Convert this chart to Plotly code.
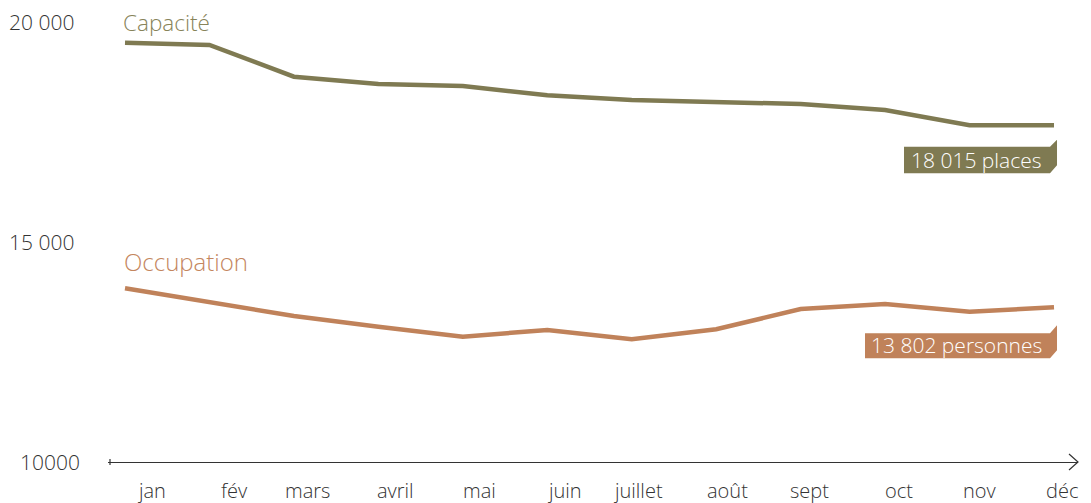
import plotly.graph_objects as go

months = ["jan", "fév", "mars", "avril", "mai", "juin", "juillet", "août", "sept", "oct", "nov", "déc"]
capacite = [19530, 19477, 18757, 18591, 18545, 18334, 18227, 18175, 18136, 18000, 17652, 17652]
occupation = [13948, 13643, 13318, 13075, 12848, 13000, 12789, 13016, 13477, 13591, 13416, 13516]
y_ticks = [10000, 15000, 20000]
y_tick_text = ["10000", "15 000", "20 000"]
cap_label = "18 015 places"
occ_label = "13 802 personnes"

# styling
FONT = "'Open Sans', Lato, sans-serif"
W = 300
C_CAP = "#7f7a52"
C_CAP_TXT = "#878359"
C_OCC = "#c0825a"
C_OCC_TXT = "#c4865e"
month_shift = [26, 25, 14, 17, 17, 17, 6, 11, 9, 14, 10, 8]
ytick_shift = [-26, -32, -32]

x = list(range(len(months)))
fig = go.Figure()
fig.add_trace(go.Scatter(x=x, y=capacite, mode="lines", line=dict(color=C_CAP, width=4.5),
                         hoverinfo="skip", showlegend=False))
fig.add_trace(go.Scatter(x=x, y=occupation, mode="lines", line=dict(color=C_OCC, width=4.5),
                         hoverinfo="skip", showlegend=False))

ann = []
for i, m in enumerate(months):
    ann.append(dict(x=i, y=0, xref="x", yref="paper", text=m, showarrow=False,
                    xanchor="center", yanchor="middle", xshift=month_shift[i], yshift=-28,
                    font=dict(family=FONT, size=20, color="#333333", weight=W)))
for v, t, s in zip(y_ticks, y_tick_text, ytick_shift):
    ann.append(dict(x=0, y=v, xref="paper", yref="y", text=t, showarrow=False,
                    xanchor="right", yanchor="middle", xshift=s,
                    font=dict(family=FONT, size=21, color="#333333", weight=W)))
ann.append(dict(x=0, y=capacite[0], xref="x", yref="y", text="Capacité", showarrow=False,
                xanchor="left", yanchor="middle", xshift=-3, yshift=20, borderpad=0,
                font=dict(family=FONT, size=22.5, color=C_CAP_TXT, weight=W)))
ann.append(dict(x=0, y=occupation[0], xref="x", yref="y", text="Occupation", showarrow=False,
                xanchor="left", yanchor="middle", xshift=-3, yshift=27,
                font=dict(family=FONT, size=24, color=C_OCC_TXT, weight=W)))
last = len(months) - 1
ann.append(dict(x=last, y=capacite[-1], xref="x", yref="y", text=cap_label, showarrow=False,
                xanchor="right", yanchor="middle", xshift=-10, yshift=-35,
                font=dict(family=FONT, size=21, color="white", weight=W)))
ann.append(dict(x=last, y=occupation[-1], xref="x", yref="y", text=occ_label, showarrow=False,
                xanchor="right", yanchor="middle", xshift=-10, yshift=-38,
                font=dict(family=FONT, size=21, color="white", weight=W)))

shapes = [
    dict(type="path", xref="x", yref="y", xsizemode="pixel", ysizemode="pixel",
         xanchor=last, yanchor=capacite[-1],
         path="M -150,-21.5 L -4,-21.5 L 3,-14.5 L 3,-40 L -4,-48 L -150,-48 Z",
         fillcolor=C_CAP, line=dict(width=0), layer="below"),
    dict(type="path", xref="x", yref="y", xsizemode="pixel", ysizemode="pixel",
         xanchor=last, yanchor=occupation[-1],
         path="M -189,-26 L -4,-26 L 3,-18 L 3,-43 L -4,-51 L -189,-51 Z",
         fillcolor=C_OCC, line=dict(width=0), layer="below"),
    dict(type="path", xref="paper", yref="paper", xsizemode="pixel", ysizemode="pixel",
         xanchor=1, yanchor=0, path="M -9,8 L 0,0 L -9,-8",
         line=dict(color="#333333", width=1.2)),
    dict(type="path", xref="paper", yref="paper", xsizemode="pixel", ysizemode="pixel",
         xanchor=0, yanchor=0, path="M 2,3 L 2,-3",
         line=dict(color="#333333", width=1.2)),
]

# the page body adds an 8px margin, so the figure is 8px smaller on each axis
fig.update_layout(
    width=1083, height=495, autosize=False,
    margin=dict(l=100, r=13, t=2, b=41),
    paper_bgcolor="white", plot_bgcolor="white",
    annotations=ann, shapes=shapes,
    xaxis=dict(range=[-0.2013, 11.284], showgrid=False, zeroline=False, showticklabels=False,
               ticks="", showline=True, linecolor="#333333", linewidth=1.2, fixedrange=True),
    yaxis=dict(range=[10000, 20272.7], showgrid=False, zeroline=False, showticklabels=False,
               ticks="", showline=False, fixedrange=True),
)
fig.write_html("out.html")
